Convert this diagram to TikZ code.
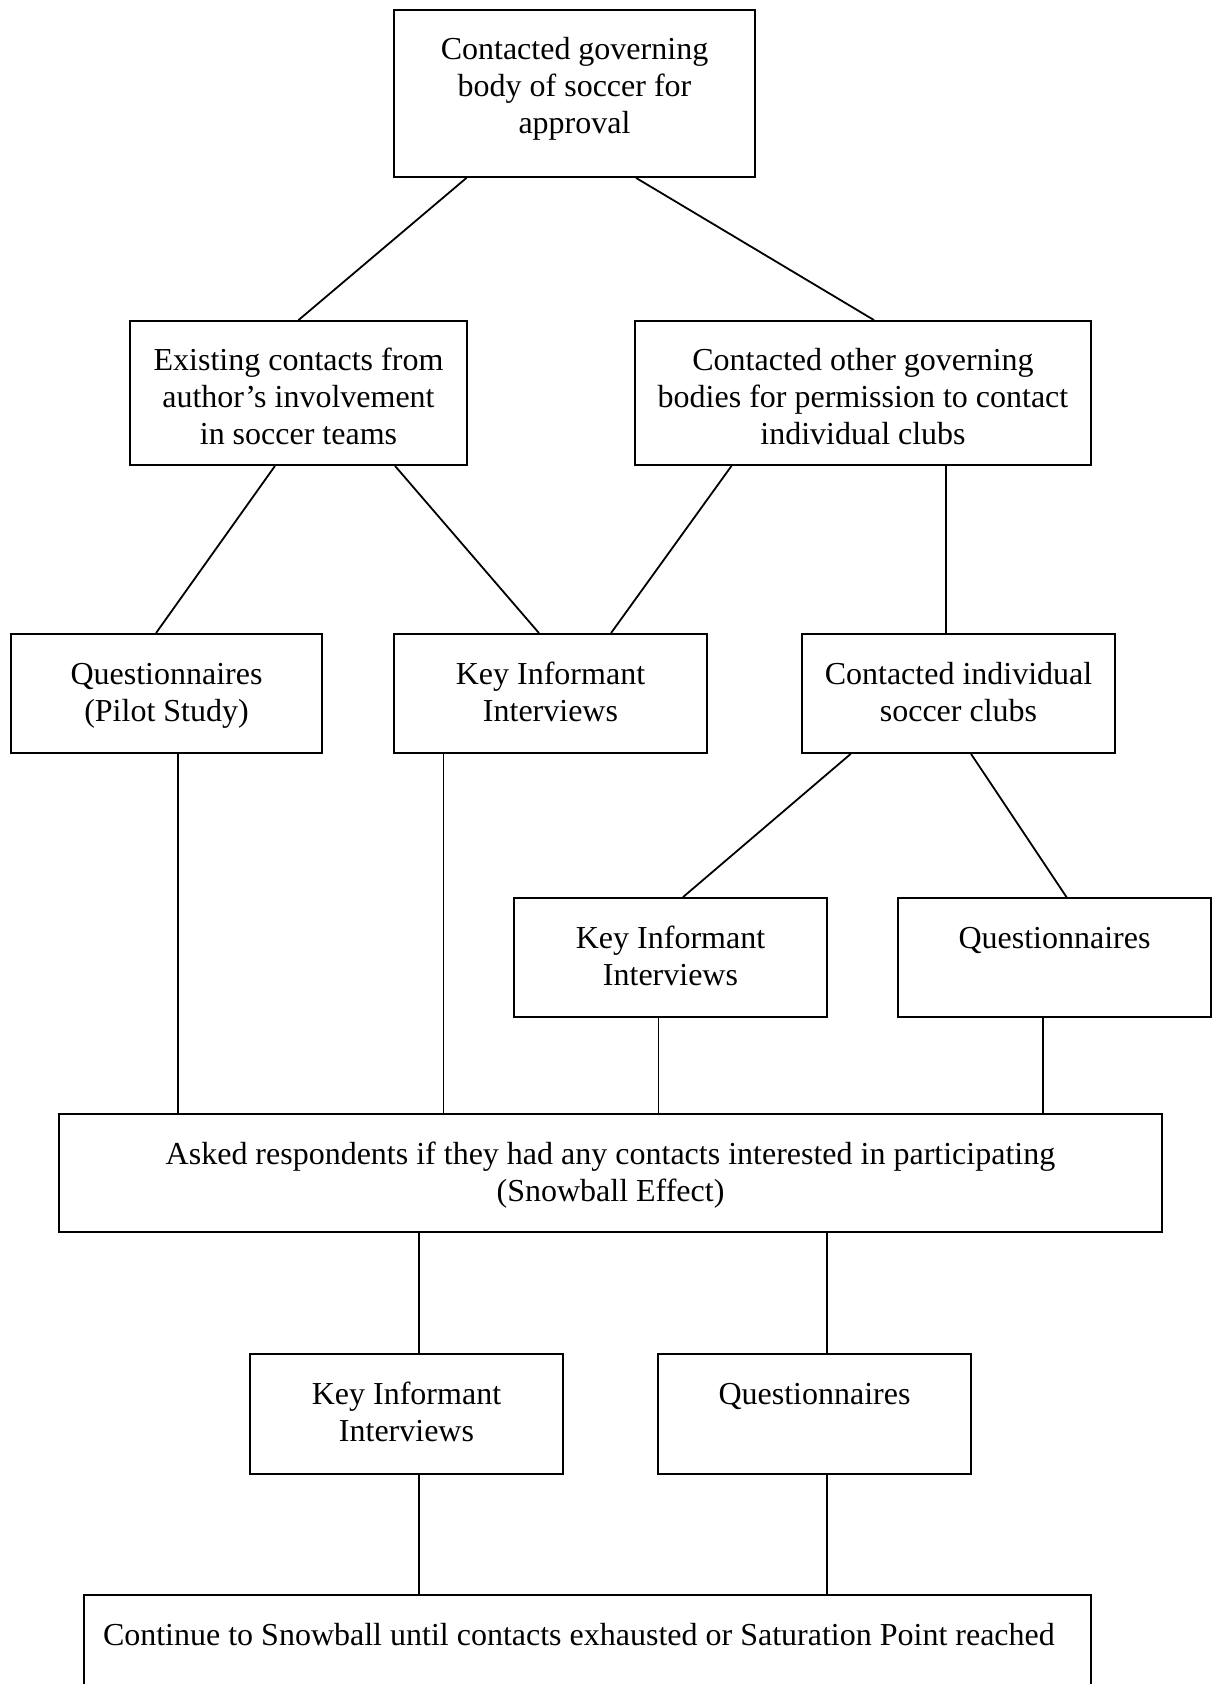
\documentclass[tikz,border=0pt]{standalone}
\usepackage{fontspec}
\setmainfont{Liberation Serif}
\tikzset{
  stage/.style={draw, line width=0.9pt, inner sep=0pt, font=\fontsize{16}{18.5}\selectfont},
  link/.style={line width=0.9pt}
}
\newcommand{\boxtext}[3]{\parbox[c][#2][t]{#1}{\centering\rule{0pt}{25pt}#3}}
\begin{document}
\begin{tikzpicture}[x=0.5pt, y=-0.5pt]
  \clip (0,0) rectangle (1218,1684);
  \node[stage] (gov) at (574.5,93.5) {\boxtext{180.5pt}{83.5pt}{Contacted governing\\ body of soccer for\\ approval}};
  \node[stage] (ex) at (298.5,393) {\boxtext{168.5pt}{72pt}{Existing contacts from\\ author’s involvement\\ in soccer teams}};
  \node[stage] (oth) at (863,393) {\boxtext{228pt}{72pt}{Contacted other governing\\ bodies for permission to contact\\ individual clubs}};
  \node[stage] (qp) at (166.5,693.5) {\boxtext{155.5pt}{59.5pt}{Questionnaires\\ (Pilot Study)}};
  \node[stage] (kii1) at (550.5,693.5) {\boxtext{156.5pt}{59.5pt}{Key Informant\\ Interviews}};
  \node[stage] (ind) at (958.5,693.5) {\boxtext{156.5pt}{59.5pt}{Contacted individual\\ soccer clubs}};
  \node[stage] (kii2) at (670.5,957.5) {\boxtext{156.5pt}{59.5pt}{Key Informant\\ Interviews}};
  \node[stage] (q2) at (1054.5,957.5) {\boxtext{156.5pt}{59.5pt}{Questionnaires}};
  \node[stage] (ask) at (610.5,1173) {\boxtext{551.5pt}{59pt}{Asked respondents if they had any contacts interested in participating\\ (Snowball Effect)}};
  \node[stage] (kii3) at (406.5,1414) {\boxtext{156.5pt}{60pt}{Key Informant\\ Interviews}};
  \node[stage] (q3) at (814.5,1414) {\boxtext{156.5pt}{60pt}{Questionnaires}};
  \node[stage] (cont) at (587.5,1655) {\parbox[c][60pt][t]{503.5pt}{\raggedright\hspace*{9.5pt}\rule{0pt}{25pt}Continue to Snowball until contacts exhausted or Saturation Point reached}};
  % slanted links
  \draw[link] ([xshift=-54pt]gov.south) -- (ex.north);
  \draw[link] ([xshift=30.75pt]gov.south) -- ([xshift=5.5pt]oth.north);
  \draw[link] ([xshift=-11.75pt]ex.south) -- ([xshift=-5.25pt]qp.north);
  \draw[link] ([xshift=48.25pt]ex.south) -- ([xshift=-5.75pt]kii1.north);
  \draw[link] ([xshift=-65.75pt]oth.south) -- ([xshift=30.25pt]kii1.north);
  \draw[link] ([xshift=-53.9pt]ind.south) -- ([xshift=6.25pt]kii2.north);
  \draw[link] ([xshift=6.25pt]ind.south) -- ([xshift=6pt]q2.north);
  % vertical links
  \draw[link] ([xshift=-6.25pt]ind.north) -- ([xshift=-6.25pt]ind.north |- oth.south);
  \draw[link] ([xshift=5.9pt]qp.south) -- ([xshift=5.9pt]qp.south |- ask.north);
  \draw[link] ([xshift=-53.5pt]kii1.south) -- ([xshift=-53.5pt]kii1.south |- ask.north);
  \draw[link] ([xshift=-6pt]kii2.south) -- ([xshift=-6pt]kii2.south |- ask.north);
  \draw[link] ([xshift=-5.75pt]q2.south) -- ([xshift=-5.75pt]q2.south |- ask.north);
  \draw[link] ([xshift=6.25pt]kii3.north) -- ([xshift=6.25pt]kii3.north |- ask.south);
  \draw[link] ([xshift=6.25pt]q3.north) -- ([xshift=6.25pt]q3.north |- ask.south);
  \draw[link] ([xshift=6.25pt]kii3.south) -- ([xshift=6.25pt]kii3.south |- cont.north);
  \draw[link] ([xshift=6.25pt]q3.south) -- ([xshift=6.25pt]q3.south |- cont.north);
\end{tikzpicture}
\end{document}
